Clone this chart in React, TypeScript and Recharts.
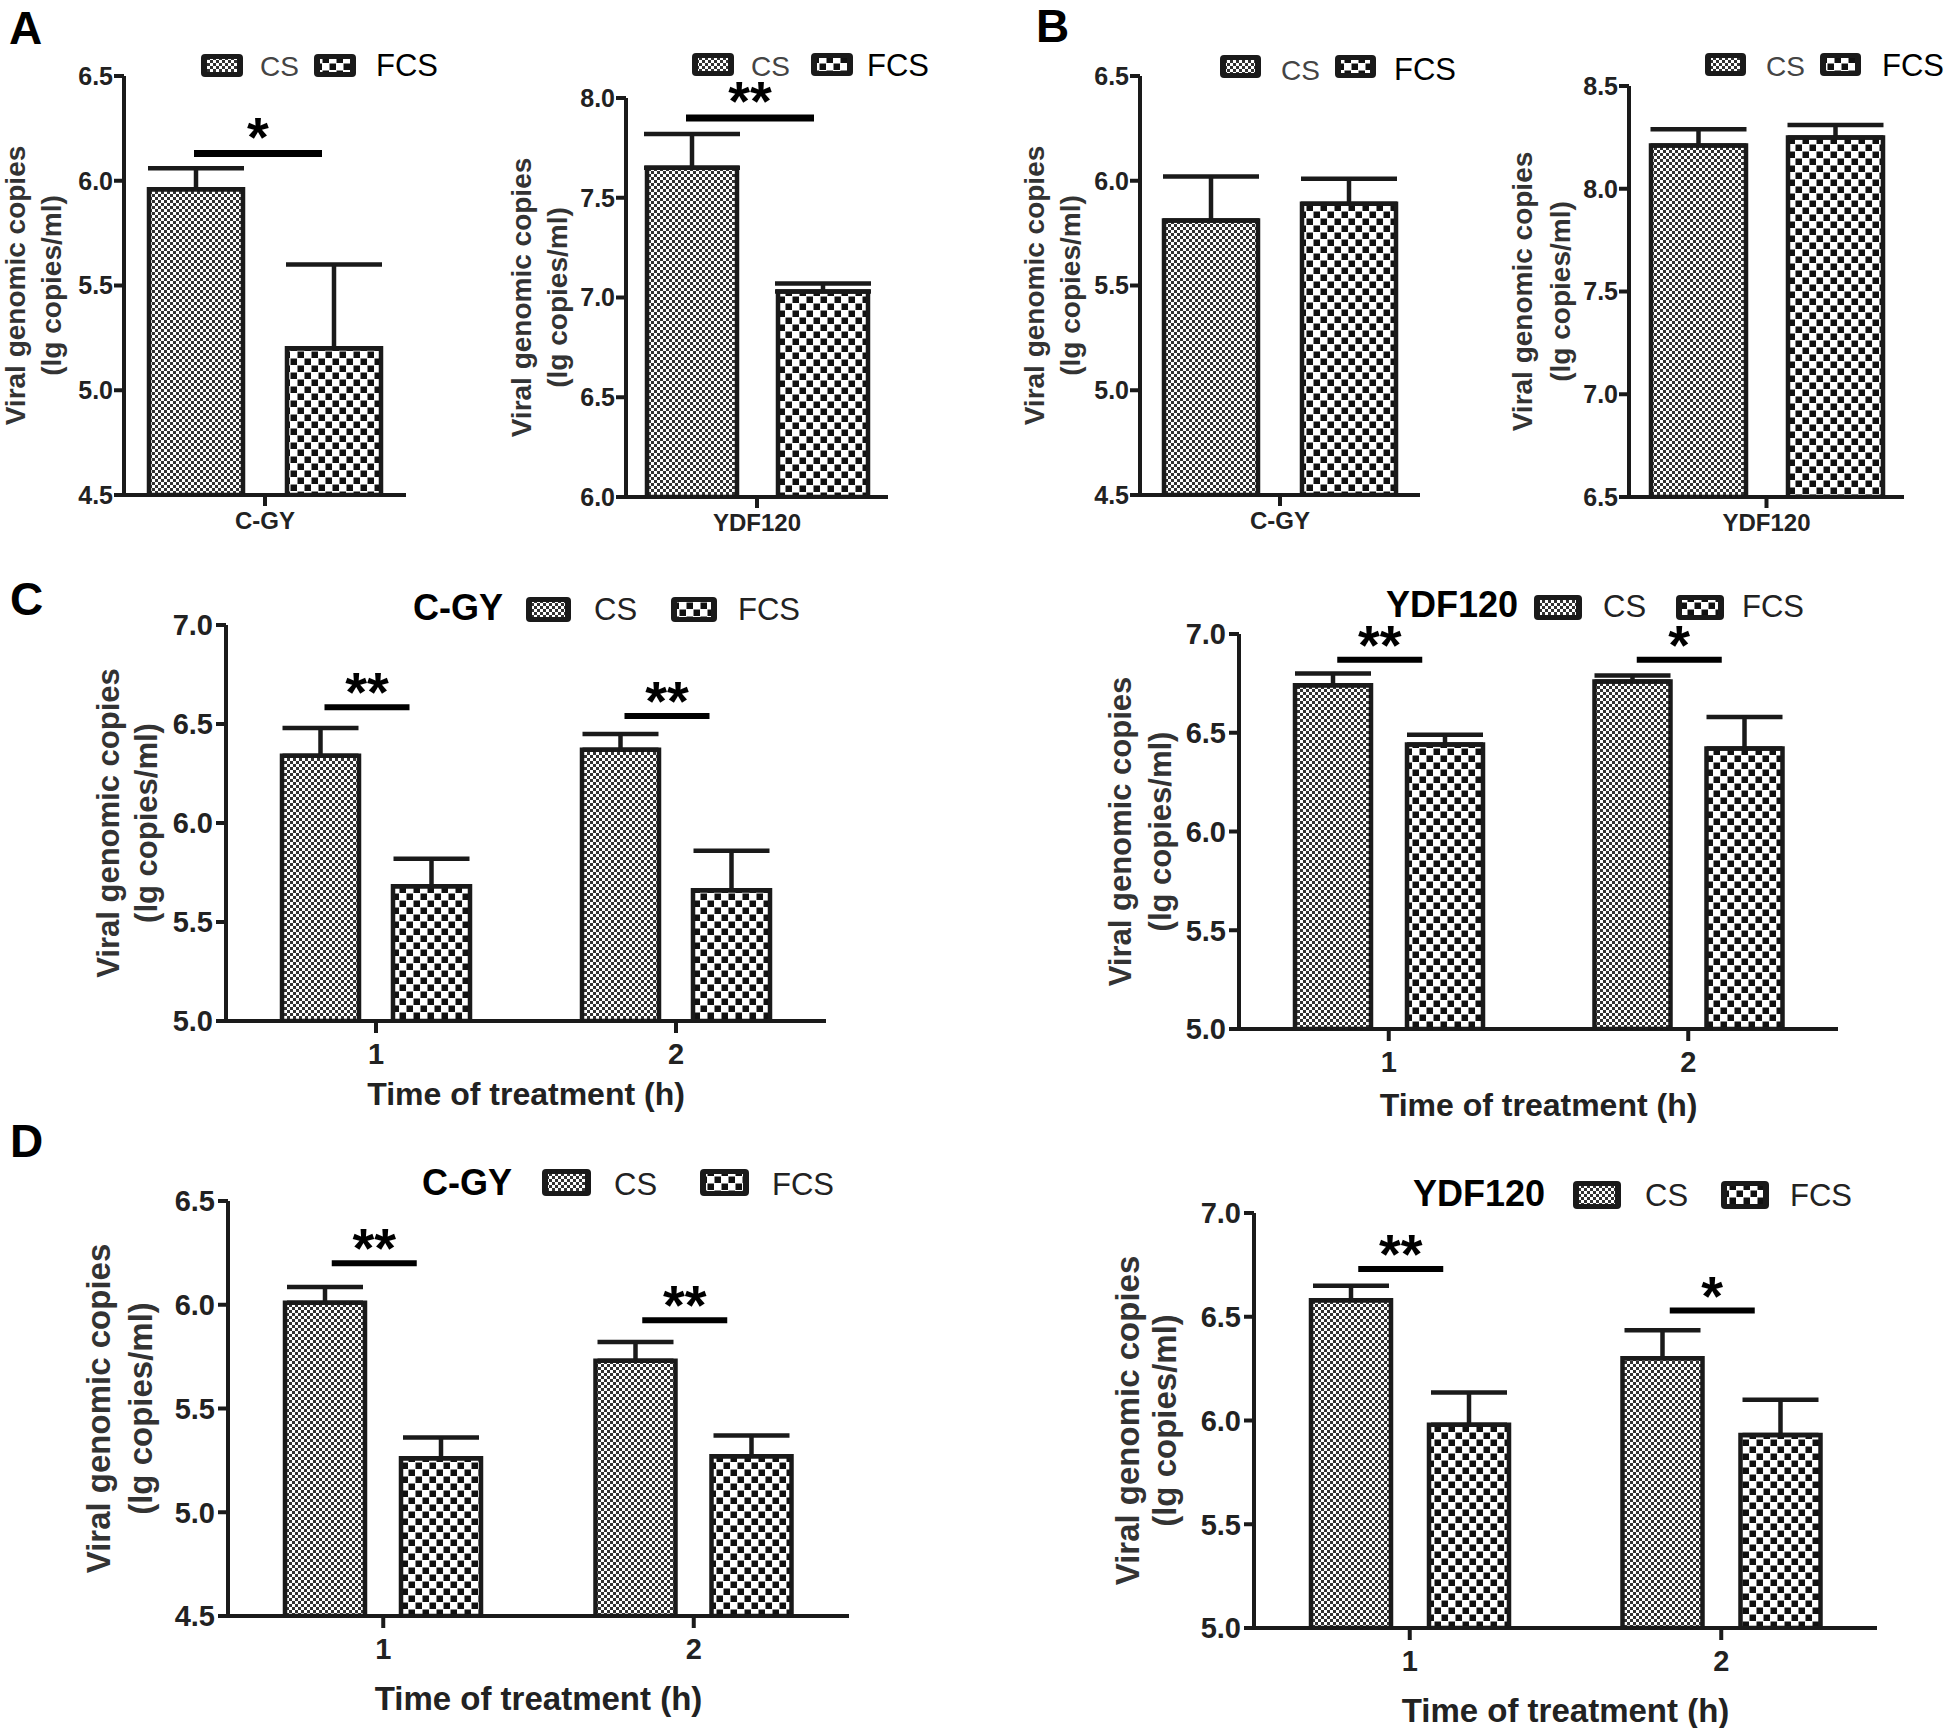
import React from 'react';
import { BarChart, Bar, XAxis, YAxis, ErrorBar, ReferenceLine, Legend } from 'recharts';

const FONT = "'Liberation Sans', Arial, Helvetica, sans-serif";

// ---------------- DATA ----------------
// Panel A – C-GY
const aCgyCats = ['C-GY'];
const aCgyCS = [5.96];
const aCgyCSErr = [0.1];
const aCgyFCS = [5.2];
const aCgyFCSErr = [0.4];
const aCgyTicks = [4.5, 5.0, 5.5, 6.0, 6.5];
const aCgySig = [6.13];
const aCgySigMark = ['*'];

// Panel A – YDF120
const aYdfCats = ['YDF120'];
const aYdfCS = [7.65];
const aYdfCSErr = [0.17];
const aYdfFCS = [7.03];
const aYdfFCSErr = [0.04];
const aYdfTicks = [6.0, 6.5, 7.0, 7.5, 8.0];
const aYdfSig = [7.9];
const aYdfSigMark = ['**'];

// Panel B – C-GY
const bCgyCats = ['C-GY'];
const bCgyCS = [5.81];
const bCgyCSErr = [0.21];
const bCgyFCS = [5.89];
const bCgyFCSErr = [0.12];
const bCgyTicks = [4.5, 5.0, 5.5, 6.0, 6.5];

// Panel B – YDF120
const bYdfCats = ['YDF120'];
const bYdfCS = [8.21];
const bYdfCSErr = [0.08];
const bYdfFCS = [8.25];
const bYdfFCSErr = [0.06];
const bYdfTicks = [6.5, 7.0, 7.5, 8.0, 8.5];

// Panel C – C-GY
const cCgyCats = ['1', '2'];
const cCgyCS = [6.34, 6.37];
const cCgyCSErr = [0.14, 0.08];
const cCgyFCS = [5.68, 5.66];
const cCgyFCSErr = [0.14, 0.2];
const cCgyTicks = [5.0, 5.5, 6.0, 6.5, 7.0];
const cCgySig = [6.585, 6.54];
const cCgySigMark = ['**', '**'];

// Panel C – YDF120
const cYdfCats = ['1', '2'];
const cYdfCS = [6.74, 6.76];
const cYdfCSErr = [0.06, 0.03];
const cYdfFCS = [6.44, 6.42];
const cYdfFCSErr = [0.05, 0.16];
const cYdfTicks = [5.0, 5.5, 6.0, 6.5, 7.0];
const cYdfSig = [6.87, 6.87];
const cYdfSigMark = ['**', '*'];

// Panel D – C-GY
const dCgyCats = ['1', '2'];
const dCgyCS = [6.01, 5.73];
const dCgyCSErr = [0.075, 0.09];
const dCgyFCS = [5.26, 5.27];
const dCgyFCSErr = [0.1, 0.1];
const dCgyTicks = [4.5, 5.0, 5.5, 6.0, 6.5];
const dCgySig = [6.2, 5.925];
const dCgySigMark = ['**', '**'];

// Panel D – YDF120
const dYdfCats = ['1', '2'];
const dYdfCS = [6.58, 6.3];
const dYdfCSErr = [0.07, 0.135];
const dYdfFCS = [5.98, 5.93];
const dYdfFCSErr = [0.155, 0.17];
const dYdfTicks = [5.0, 5.5, 6.0, 6.5, 7.0];
const dYdfSig = [6.73, 6.53];
const dYdfSigMark = ['**', '*'];

const yTitleLines = ['Viral genomic copies', '(lg copies/ml)'];
const xTitleText = 'Time of treatment (h)';
const seriesNames = ['CS', 'FCS'];
const panelLetters = ['A', 'B', 'C', 'D'];

// ---------------- LAYOUT ----------------
const YW = 170;
const MT = 110;
const MR = 70;
const XH = 40;
const MB = 150;
const INK = '#1a1a1a';

type LegendSpec = {
  title?: string;
  titleX?: number;
  titleSize?: number;
  baseline: number;
  sw1: number[];
  t1: number;
  sw2: number[];
  t2: number;
  csSize: number;
  fcsSize: number;
  csColor: string;
  fcsColor: string;
};

type Spec = {
  plot: number[];
  barSize: number;
  barGap: number;
  capW: number;
  tickFont: number;
  tickMargin: number;
  yTitleFont: number;
  yTitleOff: number[];
  xTickFont: number;
  xTickSize: number;
  xTickMargin: number;
  xTitle?: boolean;
  xTitleFont?: number;
  xTitleDy?: number;
  sigLen: number;
  sigOff: number;
  sigThick: number;
  starFont: number;
  starDy: number;
  legend: LegendSpec;
};

const abBase = {
  capW: 48,
  tickFont: 25,
  tickMargin: 1,
  yTitleFont: 28,
  xTickFont: 24,
  xTickSize: 11,
  xTickMargin: 6,
  sigLen: 128,
  sigOff: -7,
  sigThick: 7,
  starFont: 56,
  starDy: 2,
};
const cdBase = {
  capW: 38,
  tickFont: 29,
  tickMargin: 3,
  xTickFont: 29,
  xTickSize: 12,
  xTickMargin: 10,
  xTitle: true,
  sigLen: 85,
  sigOff: -9,
  sigThick: 6,
  starFont: 56,
  starDy: 4,
};
const abLeg = { csSize: 28, fcsSize: 31, csColor: '#444', fcsColor: '#000' };
const cdLeg = { csSize: 31, fcsSize: 31, csColor: '#222', fcsColor: '#222', titleSize: 36 };

const specA1: Spec = {
  ...abBase,
  plot: [124, 76, 406, 495],
  barSize: 94,
  barGap: 44,
  yTitleOff: [-109, -73],
  legend: { ...abLeg, baseline: 76, sw1: [201, 54, 42, 23], t1: 260, sw2: [314, 54, 42, 23], t2: 376 },
};
const specA2: Spec = {
  ...abBase,
  plot: [626, 98, 888, 497],
  barSize: 90,
  barGap: 41,
  yTitleOff: [-105, -69],
  legend: { ...abLeg, baseline: 76, sw1: [692, 53, 42, 23], t1: 751, sw2: [811, 53, 42, 23], t2: 867 },
};
const specB1: Spec = {
  ...abBase,
  plot: [1140, 76, 1420, 495],
  barSize: 94,
  barGap: 44,
  yTitleOff: [-106, -70],
  legend: { ...abLeg, baseline: 80, sw1: [1220, 55, 41, 23], t1: 1281, sw2: [1335, 55, 41, 23], t2: 1394 },
};
const specB2: Spec = {
  ...abBase,
  plot: [1629, 86, 1904, 497],
  barSize: 95,
  barGap: 42,
  yTitleOff: [-107, -69],
  legend: { ...abLeg, baseline: 76, sw1: [1705, 53, 41, 23], t1: 1766, sw2: [1820, 53, 41, 23], t2: 1882 },
};
const specC1: Spec = {
  ...cdBase,
  plot: [226, 625, 826, 1021],
  barSize: 77,
  barGap: 34,
  yTitleFont: 31,
  yTitleOff: [-118, -80],
  xTitleFont: 32,
  xTitleDy: 84,
  legend: { ...cdLeg, title: 'C-GY', titleX: 413, baseline: 620, sw1: [526, 597, 45, 25], t1: 594, sw2: [671, 597, 46, 25], t2: 738 },
};
const specC2: Spec = {
  ...cdBase,
  plot: [1239, 634, 1838, 1029],
  barSize: 76,
  barGap: 36,
  yTitleFont: 31,
  yTitleOff: [-119, -79],
  xTitleFont: 32,
  xTitleDy: 87,
  legend: { ...cdLeg, title: 'YDF120', titleX: 1386, baseline: 617, sw1: [1534, 595, 48, 25], t1: 1603, sw2: [1676, 595, 48, 25], t2: 1742 },
};
const specD1: Spec = {
  ...cdBase,
  plot: [228, 1201, 849, 1616],
  barSize: 80,
  barGap: 36,
  yTitleFont: 33,
  yTitleOff: [-130, -88],
  xTitleFont: 33,
  xTitleDy: 94,
  legend: { ...cdLeg, title: 'C-GY', titleX: 422, baseline: 1195, sw1: [542, 1169, 49, 27], t1: 614, sw2: [700, 1169, 49, 27], t2: 772 },
};
const specD2: Spec = {
  ...cdBase,
  plot: [1254, 1213, 1877, 1628],
  barSize: 80,
  barGap: 38,
  yTitleFont: 33,
  yTitleOff: [-127, -90],
  xTitleFont: 33,
  xTitleDy: 94,
  legend: { ...cdLeg, title: 'YDF120', titleX: 1413, baseline: 1206, sw1: [1573, 1181, 48, 28], t1: 1645, sw2: [1721, 1181, 48, 28], t2: 1790 },
};

const letterPos = [
  [9, 44],
  [1036, 42],
  [10, 615],
  [10, 1157],
];

function Swatch({ r, pat }: { r: number[]; pat: string }) {
  const [x, y, w, h] = r;
  return (
    <g>
      <rect x={x} y={y} width={w} height={h} rx={4} fill={INK} />
      <rect x={x + 6} y={y + 5} width={w - 12} height={h - 10} fill={`url(#${pat})`} />
    </g>
  );
}

type PanelProps = {
  cats: string[];
  cs: number[];
  csErr: number[];
  fcs: number[];
  fcsErr: number[];
  ticks: number[];
  sig?: number[];
  sigMark?: string[];
  spec: Spec;
};

function Panel({ cats, cs, csErr, fcs, fcsErr, ticks, sig = [], sigMark = [], spec }: PanelProps) {
  const [x0, y0, x1, y1] = spec.plot;
  const left = x0 - YW;
  const top = y0 - MT;
  const pw = x1 - x0;
  const ph = y1 - y0;
  const W = pw + YW + MR;
  const H = ph + MT + MB;
  const data = cats.map((c, i) => ({
    cat: c,
    cs: cs[i],
    csErr: [0, csErr[i]],
    fcs: fcs[i],
    fcsErr: [0, fcsErr[i]],
  }));
  const lg = spec.legend;

  const yTitle = (p: any) => {
    const vb = p && p.viewBox;
    const ax = vb && typeof vb.x === 'number' ? vb.x + vb.width : YW;
    const cy = vb && typeof vb.y === 'number' ? vb.y + vb.height / 2 : MT + ph / 2;
    return (
      <g>
        {yTitleLines.map((t, i) => {
          const tx = ax + spec.yTitleOff[i];
          return (
            <text
              key={i}
              x={tx}
              y={cy}
              transform={`rotate(-90 ${tx} ${cy})`}
              textAnchor="middle"
              dominantBaseline="central"
              fontFamily={FONT}
              fontWeight={700}
              fontSize={spec.yTitleFont}
              fill="#333"
            >
              {t}
            </text>
          );
        })}
      </g>
    );
  };

  const xTitle = (p: any) => {
    const vb = p && p.viewBox;
    const cx = vb && typeof vb.x === 'number' ? vb.x + vb.width / 2 : YW + pw / 2;
    const ay = vb && typeof vb.y === 'number' ? vb.y : MT + ph;
    return (
      <text
        x={cx}
        y={ay + (spec.xTitleDy || 0)}
        textAnchor="middle"
        fontFamily={FONT}
        fontWeight={700}
        fontSize={spec.xTitleFont}
        fill="#222"
      >
        {xTitleText}
      </text>
    );
  };

  const legendContent = () => (
    <svg width={W} height={H} style={{ position: 'absolute', left: 0, top: 0, overflow: 'visible' }}>
      <g transform={`translate(${-left} ${-top})`}>
        {lg.title ? (
          <text x={lg.titleX} y={lg.baseline} fontFamily={FONT} fontWeight={700} fontSize={lg.titleSize} fill="#000">
            {lg.title}
          </text>
        ) : null}
        <Swatch r={lg.sw1} pat="csPat" />
        <text x={lg.t1} y={lg.baseline} fontFamily={FONT} fontSize={lg.csSize} fill={lg.csColor}>
          {seriesNames[0]}
        </text>
        <Swatch r={lg.sw2} pat="fcsPat" />
        <text x={lg.t2} y={lg.baseline} fontFamily={FONT} fontSize={lg.fcsSize} fill={lg.fcsColor}>
          {seriesNames[1]}
        </text>
      </g>
    </svg>
  );

  return (
    <div style={{ position: 'absolute', left, top, width: W, height: H }}>
      <BarChart
        width={W}
        height={H}
        data={data}
        margin={{ top: MT, right: MR, bottom: MB - XH, left: 0 }}
        barGap={spec.barGap}
      >
        <XAxis
          dataKey="cat"
          type="category"
          height={XH}
          interval={0}
          tickSize={spec.xTickSize}
          tickMargin={spec.xTickMargin}
          axisLine={{ stroke: INK, strokeWidth: 4 }}
          tickLine={{ stroke: INK, strokeWidth: 4 }}
          tick={{ fill: '#222', fontSize: spec.xTickFont, fontWeight: 700, fontFamily: FONT }}
          label={spec.xTitle ? xTitle : undefined}
        />
        <YAxis
          type="number"
          width={YW}
          domain={[ticks[0], ticks[ticks.length - 1]]}
          ticks={ticks}
          interval={0}
          allowDataOverflow
          tickFormatter={(v: number) => v.toFixed(1)}
          tickSize={10}
          tickMargin={spec.tickMargin}
          axisLine={{ stroke: INK, strokeWidth: 4 }}
          tickLine={{ stroke: INK, strokeWidth: 4 }}
          tick={{ fill: '#222', fontSize: spec.tickFont, fontWeight: 700, fontFamily: FONT }}
          label={yTitle}
        />
        <Bar dataKey="cs" name={seriesNames[0]} barSize={spec.barSize} fill="url(#csPat)" stroke={INK} strokeWidth={4.5} isAnimationActive={false}>
          <ErrorBar dataKey="csErr" direction="y" width={spec.capW} stroke={INK} strokeWidth={4.5} isAnimationActive={false} />
        </Bar>
        <Bar dataKey="fcs" name={seriesNames[1]} barSize={spec.barSize} fill="url(#fcsPat)" stroke={INK} strokeWidth={4.5} isAnimationActive={false}>
          <ErrorBar dataKey="fcsErr" direction="y" width={spec.capW} stroke={INK} strokeWidth={4.5} isAnimationActive={false} />
        </Bar>
        {sig.map((s, i) => (
          <ReferenceLine
            key={`sig${i}`}
            segment={[
              { x: cats[i], y: s },
              { x: cats[i], y: s },
            ]}
            ifOverflow="visible"
            stroke="#000"
            shape={(p: any) => {
              const cx = p.x1 + spec.sigOff;
              const y = p.y1;
              return (
                <g>
                  <line x1={cx - spec.sigLen / 2} x2={cx + spec.sigLen / 2} y1={y} y2={y} stroke="#000" strokeWidth={spec.sigThick} />
                  <text x={cx} y={y + spec.starDy} textAnchor="middle" fontFamily={FONT} fontWeight={700} fontSize={spec.starFont} fill="#000">
                    {sigMark[i]}
                  </text>
                </g>
              );
            }}
          />
        ))}
        <Legend
          verticalAlign="middle"
          layout="horizontal"
          wrapperStyle={{ left: 0, top: 0, width: W, height: H, pointerEvents: 'none' }}
          content={legendContent}
        />
      </BarChart>
    </div>
  );
}

export default function App() {
  return (
    <div
      style={{
        position: 'absolute',
        left: 0,
        top: 0,
        width: 1946,
        height: 1728,
        background: '#fff',
        overflow: 'hidden',
        fontFamily: FONT,
      }}
    >
      <svg width={0} height={0} style={{ position: 'absolute' }}>
        <defs>
          <pattern id="csPat" width={6} height={6} patternUnits="userSpaceOnUse">
            <rect width={6} height={6} fill="#fff" />
            <rect x={0} y={0} width={3} height={3} fill="#333" />
            <rect x={3} y={3} width={3} height={3} fill="#333" />
          </pattern>
          <pattern id="fcsPat" width={14} height={14} patternUnits="userSpaceOnUse">
            <rect width={14} height={14} fill="#fff" />
            <rect x={0.5} y={0.5} width={6.5} height={6.5} fill="#111" />
            <rect x={7.5} y={7.5} width={6.5} height={6.5} fill="#111" />
          </pattern>
        </defs>
      </svg>
      <svg width={1946} height={1728} style={{ position: 'absolute', left: 0, top: 0 }}>
        {panelLetters.map((l, i) => (
          <text key={l} x={letterPos[i][0]} y={letterPos[i][1]} fontFamily={FONT} fontWeight={700} fontSize={46} fill="#000">
            {l}
          </text>
        ))}
      </svg>
      <Panel cats={aCgyCats} cs={aCgyCS} csErr={aCgyCSErr} fcs={aCgyFCS} fcsErr={aCgyFCSErr} ticks={aCgyTicks} sig={aCgySig} sigMark={aCgySigMark} spec={specA1} />
      <Panel cats={aYdfCats} cs={aYdfCS} csErr={aYdfCSErr} fcs={aYdfFCS} fcsErr={aYdfFCSErr} ticks={aYdfTicks} sig={aYdfSig} sigMark={aYdfSigMark} spec={specA2} />
      <Panel cats={bCgyCats} cs={bCgyCS} csErr={bCgyCSErr} fcs={bCgyFCS} fcsErr={bCgyFCSErr} ticks={bCgyTicks} spec={specB1} />
      <Panel cats={bYdfCats} cs={bYdfCS} csErr={bYdfCSErr} fcs={bYdfFCS} fcsErr={bYdfFCSErr} ticks={bYdfTicks} spec={specB2} />
      <Panel cats={cCgyCats} cs={cCgyCS} csErr={cCgyCSErr} fcs={cCgyFCS} fcsErr={cCgyFCSErr} ticks={cCgyTicks} sig={cCgySig} sigMark={cCgySigMark} spec={specC1} />
      <Panel cats={cYdfCats} cs={cYdfCS} csErr={cYdfCSErr} fcs={cYdfFCS} fcsErr={cYdfFCSErr} ticks={cYdfTicks} sig={cYdfSig} sigMark={cYdfSigMark} spec={specC2} />
      <Panel cats={dCgyCats} cs={dCgyCS} csErr={dCgyCSErr} fcs={dCgyFCS} fcsErr={dCgyFCSErr} ticks={dCgyTicks} sig={dCgySig} sigMark={dCgySigMark} spec={specD1} />
      <Panel cats={dYdfCats} cs={dYdfCS} csErr={dYdfCSErr} fcs={dYdfFCS} fcsErr={dYdfFCSErr} ticks={dYdfTicks} sig={dYdfSig} sigMark={dYdfSigMark} spec={specD2} />
    </div>
  );
}
